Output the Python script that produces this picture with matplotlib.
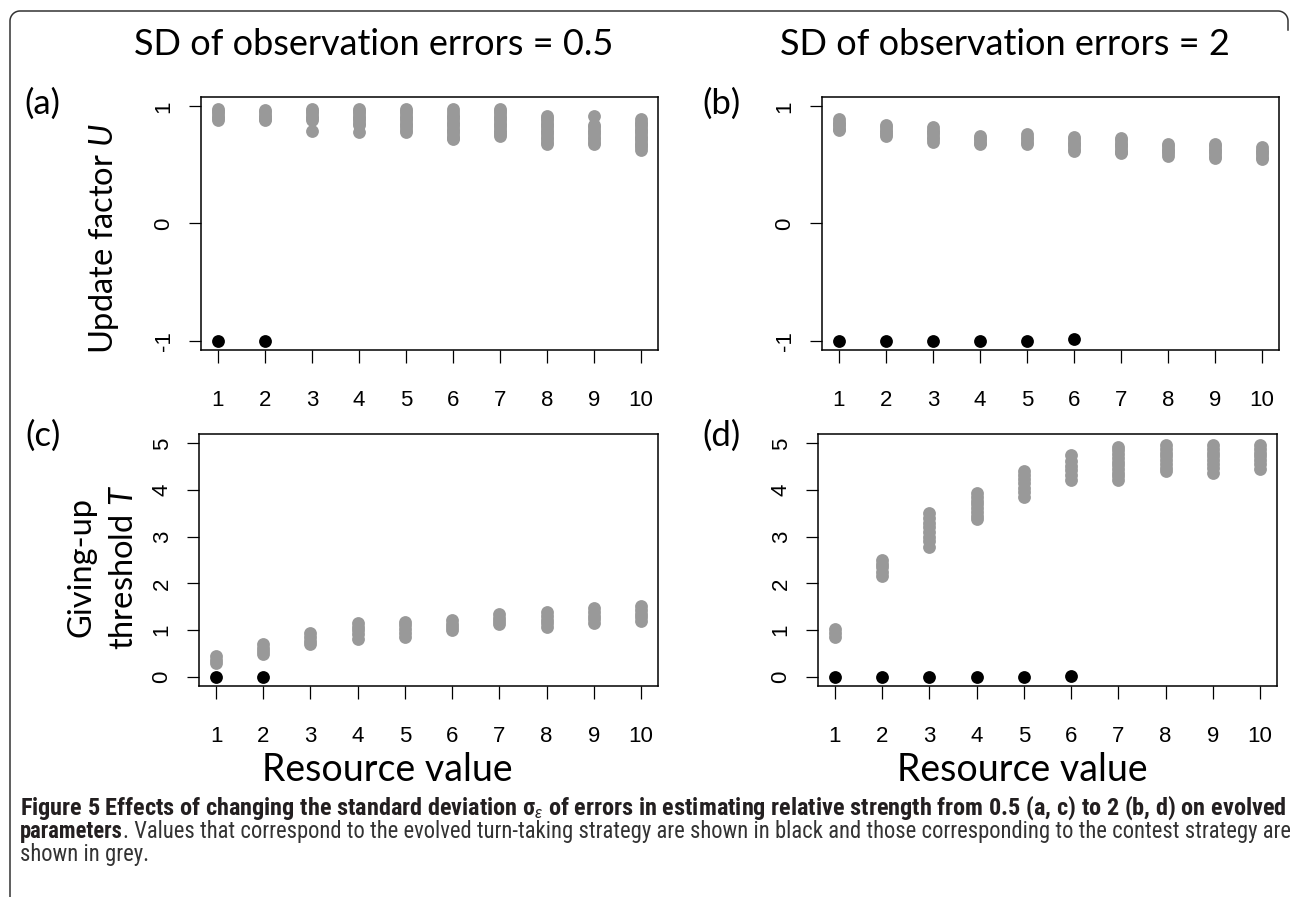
import numpy as np
import matplotlib
matplotlib.use("Agg")
import matplotlib.pyplot as plt
from matplotlib.lines import Line2D

# resource values on the x axis
resource = [1, 2, 3, 4, 5, 6, 7, 8, 9, 10]

# (a) update factor U, SD = 0.5 (contest strategy, grey)
a_grey = [
    [0.98, 0.96, 0.94, 0.92, 0.90, 0.88],
    [0.97, 0.95, 0.93, 0.91, 0.89, 0.88],
    [0.98, 0.96, 0.94, 0.92, 0.90, 0.88, 0.79],
    [0.98, 0.96, 0.94, 0.92, 0.90, 0.88, 0.86, 0.84, 0.78],
    [0.98, 0.96, 0.94, 0.92, 0.90, 0.88, 0.86, 0.84, 0.82, 0.80, 0.78],
    [0.98, 0.95, 0.93, 0.91, 0.89, 0.87, 0.85, 0.83, 0.81, 0.79, 0.77, 0.75, 0.73, 0.72],
    [0.98, 0.96, 0.94, 0.92, 0.90, 0.88, 0.86, 0.84, 0.82, 0.80, 0.78, 0.76, 0.75],
    [0.92, 0.90, 0.88, 0.86, 0.84, 0.82, 0.80, 0.78, 0.76, 0.74, 0.72, 0.70, 0.68],
    [0.92, 0.84, 0.82, 0.80, 0.78, 0.76, 0.74, 0.72, 0.70, 0.68],
    [0.89, 0.87, 0.85, 0.83, 0.81, 0.79, 0.77, 0.75, 0.73, 0.71, 0.69, 0.67, 0.65, 0.63],
]
a_black_x = [1, 2]
a_black_y = [-1, -1]

# (b) update factor U, SD = 2
b_grey = [
    [0.89, 0.87, 0.85, 0.83, 0.81, 0.80],
    [0.84, 0.82, 0.80, 0.78, 0.76, 0.75],
    [0.82, 0.80, 0.78, 0.76, 0.74, 0.72, 0.70],
    [0.75, 0.73, 0.71, 0.69, 0.68],
    [0.76, 0.74, 0.72, 0.70, 0.68],
    [0.74, 0.72, 0.70, 0.68, 0.66, 0.64, 0.62],
    [0.73, 0.71, 0.69, 0.67, 0.65, 0.63, 0.61, 0.60],
    [0.68, 0.66, 0.64, 0.62, 0.60, 0.58],
    [0.68, 0.66, 0.64, 0.62, 0.60, 0.58, 0.56],
    [0.65, 0.63, 0.61, 0.59, 0.57, 0.55],
]
b_black_x = [1, 2, 3, 4, 5, 6]
b_black_y = [-1, -1, -1, -1, -1, -0.99]

# (c) giving-up threshold T, SD = 0.5
c_grey = [
    [0.44, 0.36, 0.29],
    [0.70, 0.62, 0.55, 0.48],
    [0.93, 0.85, 0.77, 0.69],
    [1.15, 1.07, 0.99, 0.91, 0.81],
    [1.18, 1.10, 1.02, 0.94, 0.86],
    [1.21, 1.13, 1.06, 0.99],
    [1.34, 1.26, 1.19, 1.12],
    [1.38, 1.30, 1.22, 1.14, 1.06],
    [1.47, 1.39, 1.31, 1.23, 1.14],
    [1.51, 1.43, 1.35, 1.27, 1.19],
]
c_black_x = [1, 2]
c_black_y = [0, 0]

# (d) giving-up threshold T, SD = 2
d_grey = [
    [1.02, 0.94, 0.86],
    [2.50, 2.42, 2.34, 2.25, 2.16],
    [3.51, 3.40, 3.30, 3.20, 3.10, 3.00, 2.90, 2.77],
    [3.93, 3.85, 3.77, 3.69, 3.61, 3.53, 3.45, 3.38],
    [4.41, 4.32, 4.23, 4.14, 4.05, 3.96, 3.84],
    [4.74, 4.62, 4.52, 4.42, 4.32, 4.22],
    [4.93, 4.85, 4.77, 4.69, 4.61, 4.53, 4.45, 4.37, 4.29, 4.22],
    [4.96, 4.88, 4.80, 4.72, 4.64, 4.56, 4.48, 4.41],
    [4.96, 4.88, 4.80, 4.72, 4.64, 4.56, 4.48, 4.36],
    [4.96, 4.88, 4.80, 4.72, 4.64, 4.56, 4.44],
]
d_black_x = [1, 2, 3, 4, 5, 6]
d_black_y = [0, 0, 0, 0, 0, 0.02]

u_ticks = [-1, 0, 1]
t_ticks = [0, 1, 2, 3, 4, 5]

W, H = 1290, 897
GREY = "#999999"
TFONT = "Lato"
plt.rcParams["mathtext.fontset"] = "custom"
plt.rcParams["mathtext.rm"] = TFONT
plt.rcParams["mathtext.it"] = TFONT + ":italic"
plt.rcParams["axes.unicode_minus"] = False

fig = plt.figure(figsize=(W / 100, H / 100), dpi=100)


def rect(x0, y0, x1, y1):
    return [x0 / W, 1 - y1 / H, (x1 - x0) / W, (y1 - y0) / H]


def panel(pos, grey, bx, by, ylim, yticks):
    ax = fig.add_axes(pos)
    for x, ys in zip(resource, grey):
        ax.scatter([x] * len(ys), ys, s=85, color=GREY, linewidths=0, zorder=2)
    ax.scatter(bx, by, s=85, color="black", linewidths=0, zorder=3)
    ax.set_xlim(0.64, 10.36)
    ax.set_ylim(*ylim)
    ax.set_xticks(resource)
    ax.set_yticks(yticks)
    ax.tick_params(direction="out", length=9, width=0.9, labelsize=16)
    ax.tick_params(axis="x", pad=20)
    ax.tick_params(axis="y", pad=10, labelrotation=90)
    for lab in ax.get_yticklabels():
        lab.set_verticalalignment("center")
    for lab in ax.get_xticklabels() + ax.get_yticklabels():
        lab.set_fontfamily("Liberation Sans")
    for sp in ax.spines.values():
        sp.set_linewidth(1.1)
    return ax


panel(rect(201, 97, 658, 350), a_grey, a_black_x, a_black_y, (-1.08, 1.08), u_ticks)
panel(rect(822, 97, 1279, 350), b_grey, b_black_x, b_black_y, (-1.08, 1.08), u_ticks)
panel(rect(199, 434, 658, 686), c_grey, c_black_x, c_black_y, (-0.2, 5.2), t_ticks)
panel(rect(818, 434, 1277, 686), d_grey, d_black_x, d_black_y, (-0.2, 5.2), t_ticks)


def ftext(x, y, s, **kw):
    kw.setdefault("family", TFONT)
    return fig.text(x / W, 1 - y / H, s, **kw)


ftext(374, 55, "SD of observation errors = 0.5", fontsize=26, ha="center", va="baseline")
ftext(1005, 55, "SD of observation errors = 2", fontsize=26, ha="center", va="baseline")
for lab, x, y in [("(a)", 42, 104), ("(b)", 721, 104), ("(c)", 43, 436), ("(d)", 722, 436)]:
    ftext(x, y, lab, fontsize=25, ha="center", va="center")
ftext(104, 238, r"Update factor $\mathit{U}$", fontsize=23.5, rotation=90, ha="center", va="center")
ftext(82, 567, "Giving-up", fontsize=23.5, rotation=90, ha="center", va="center")
ftext(124, 567, r"threshold $\mathit{T}$", fontsize=23.5, rotation=90, ha="center", va="center")
ftext(387, 770, "Resource value", fontsize=27, ha="center", va="center")
ftext(1022, 770, "Resource value", fontsize=27, ha="center", va="center")

# caption
CFONT = ["Liberation Sans Narrow", "Roboto Condensed", "Roboto"]
fig.canvas.draw()
renderer = fig.canvas.get_renderer()


def width(t):
    return t.get_window_extent(renderer).width


line1 = ftext(20, 815, r"Figure 5 Effects of changing the standard deviation σ$_\varepsilon$ of errors in "
              "estimating relative strength from 0.5 (a, c) to 2 (b, d) on evolved",
              family=CFONT, fontsize=13, weight="bold", va="baseline", color="#231f20")
line1.set_fontsize(13 * 1264 / width(line1))

bold2 = ftext(20, 838, "parameters", family=CFONT, fontsize=13, weight="bold", va="baseline",
              color="#231f20")
rest2 = ftext(20, 838, ". Values that correspond to the evolved turn-taking strategy are shown in black "
              "and those corresponding to the contest strategy are", family=CFONT, fontsize=13,
              va="baseline", color="#333333")
scale = 1264 / (width(bold2) + width(rest2))
bold2.set_fontsize(13 * scale)
rest2.set_fontsize(13 * scale)
rest2.set_x((20 + width(bold2)) / W)
ftext(20, 861, "shown in grey.", family=CFONT, fontsize=13 * scale, va="baseline", color="#333333")

# outer frame: left side and top with rounded corners
ang = np.linspace(np.pi, np.pi / 2, 20)
r = 10
xs = [10, 10] + list(20 + r * np.cos(ang)) + list(1278 - r * np.cos(ang[::-1])) + [1288]
ys = [897, 21] + list(21 - r * np.sin(ang)) + list(21 - r * np.sin(ang[::-1])) + [30]
fig.add_artist(Line2D(np.array(xs) / W, 1 - np.array(ys) / H, color="#333333", lw=1.1,
                      transform=fig.transFigure))

fig.savefig("out.png", dpi=100)
